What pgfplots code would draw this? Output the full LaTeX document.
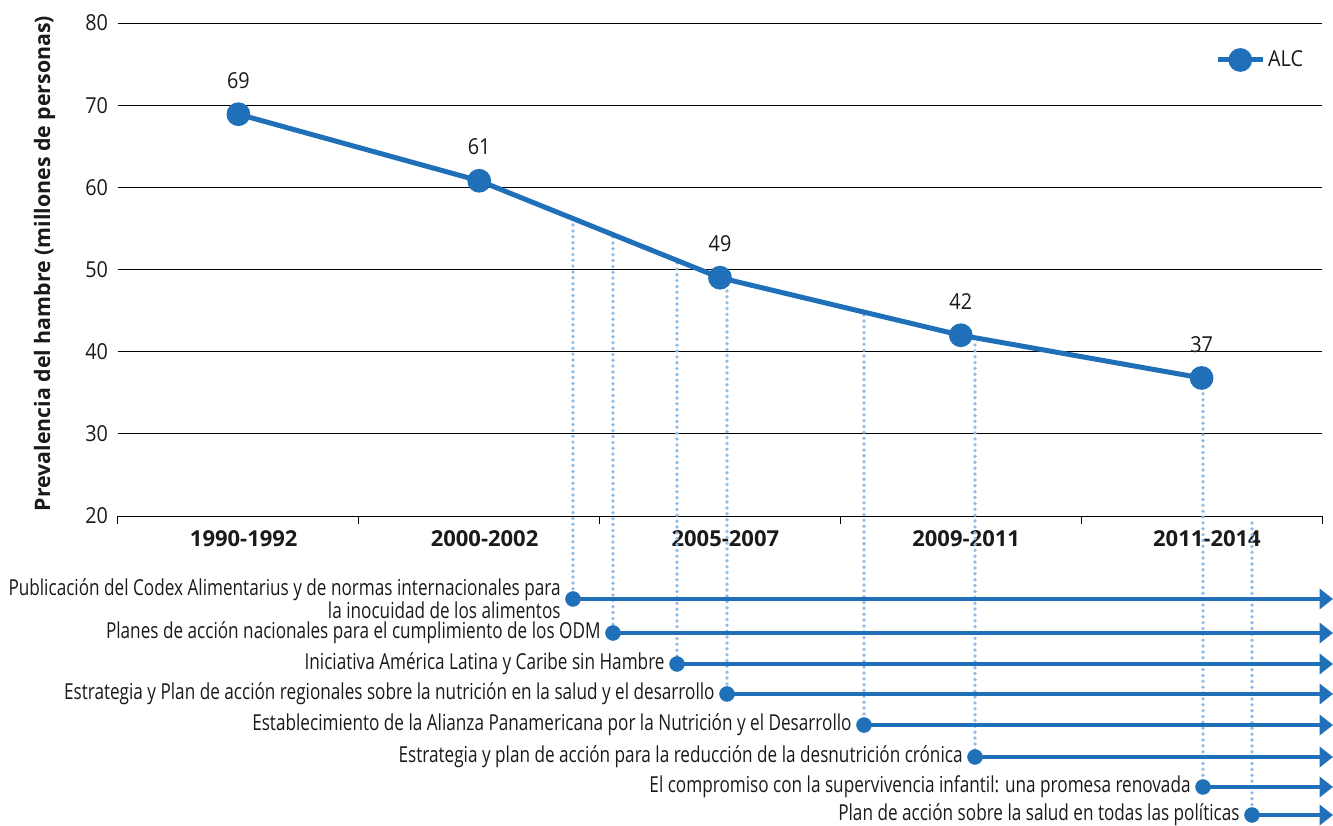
\documentclass[border=0pt]{standalone}
\usepackage{pgfplots}
\pgfplotsset{compat=1.18}
\usetikzlibrary{arrows.meta}
\usepackage{fontspec}
\setmainfont{Open Sans}[FakeStretch=0.78, BoldFeatures={FakeStretch=1.0}]
\newfontfamily\numfont{Open Sans}[FakeStretch=0.9]
\definecolor{alcblue}{RGB}{31,112,184}
\definecolor{dotblue}{RGB}{145,188,228}
\definecolor{txt}{RGB}{26,26,26}
\newcommand{\fs}{\fontsize{16.5}{16.5}\selectfont}
\newcommand{\nfs}{\numfont\fontsize{16.5}{16.5}\selectfont}
\tikzset{tlab/.style={pos=0, anchor=east, xshift=-4.5pt, text=txt, font=\fontsize{16.5}{14.5}\selectfont, align=right}}
\pgfplotsset{tl/.style={forget plot, alcblue, line width=3pt, -{Triangle[length=10pt,width=15pt]}},
  dl/.style={forget plot, dotblue, line width=2.8pt, line cap=round, dash pattern=on 0pt off 4.4pt}}
\begin{document}
\begin{tikzpicture}
\begin{axis}[
  scale only axis, width=903pt, height=369.75pt,
  xmin=-0.5, xmax=4.5, ymin=20, ymax=80,
  clip=false,
  font=\fs,
  /pgf/number format/assume math mode=true,
  ytick={20,30,...,80},
  ymajorgrids, grid style={black, line width=0.75pt},
  axis x line*=bottom, axis y line*=left,
  y axis line style={draw=none},
  x axis line style={black, line width=0.75pt},
  ytick style={draw=none},
  yticklabel style={xshift=2pt, text=txt, font=\nfs},
  xtick={-0.5,0.5,...,4.5}, xticklabels={},
  tick align=outside, major tick length=6pt,
  xtick style={black, line width=0.75pt},
  extra x ticks={0,1,2,3,4},
  extra x tick labels={1990-1992,2000-2002,2005-2007,2009-2011,2011-2014},
  extra x tick style={major tick length=0pt, tick label style={font=\fs\bfseries, text=txt, yshift=-7pt, xshift=4pt}},
  ylabel={Prevalencia del hambre (millones de personas)},
  ylabel style={at={(axis description cs:0,0.5)}, anchor=center, yshift=55pt, xshift=4.5pt, font=\fontsize{16}{16}\selectfont\bfseries, text=txt},
  legend style={draw=none, fill=none, at={(0.99,0.925)}, anchor=east, font=\nfs, text=txt},
  legend image code/.code={\draw[mark repeat=2, mark phase=2] plot coordinates {(0pt,0pt) (17pt,0pt) (34pt,0pt)};},
]
% dotted guide lines
\addplot[dl] coordinates {(1.3895,55.41) (1.3895,9.90)};
\addplot[dl] coordinates {(1.5556,53.95) (1.5556,5.76)};
\addplot[dl] coordinates {(1.8214,50.79) (1.8214,1.99)};
\addplot[dl] coordinates {(2.0291,48.11) (2.0291,-1.66)};
\addplot[dl] coordinates {(2.5980,44.46) (2.5980,-5.44)};
\addplot[dl] coordinates {(3.0590,40.81) (3.0590,-9.33)};
\addplot[dl] coordinates {(4.2093,19.15) (4.2093,-16.39)};
% main series
\addplot[alcblue, line width=3.75pt, mark=*, mark size=7pt, mark options={solid},
  nodes near coords, point meta=explicit symbolic,
  nodes near coords style={anchor=south, yshift=14pt, text=txt, font=\nfs}]
  coordinates {(0,68.9) [69] (1,60.8) [61] (2,49) [49] (3,42) [42] (4,36.8) [37]};
\addlegendentry{ALC}
\addplot[dl] coordinates {(4.0058,36.3) (4.0058,-12.98)};
% timeline arrows
\addplot[tl] coordinates {(1.3895,9.90) (4.5457,9.90)} node[tlab] {Publicación del Codex Alimentarius y de normas internacionales para\\la inocuidad de los alimentos};
\addplot[tl] coordinates {(1.5556,5.76) (4.5457,5.76)} node[tlab] {Planes de acción nacionales para el cumplimiento de los ODM};
\addplot[tl] coordinates {(1.8214,1.99) (4.5457,1.99)} node[tlab] {Iniciativa América Latina y Caribe sin Hambre};
\addplot[tl] coordinates {(2.0291,-1.66) (4.5457,-1.66)} node[tlab] {Estrategia y Plan de acción regionales sobre la nutrición en la salud y el desarrollo};
\addplot[tl] coordinates {(2.5980,-5.44) (4.5457,-5.44)} node[tlab] {Establecimiento de la Alianza Panamericana por la Nutrición y el Desarrollo};
\addplot[tl] coordinates {(3.0590,-9.33) (4.5457,-9.33)} node[tlab] {Estrategia y plan de acción para la reducción de la desnutrición crónica};
\addplot[tl] coordinates {(4.0058,-12.98) (4.5457,-12.98)} node[tlab] {El compromiso con la supervivencia infantil: una promesa renovada};
\addplot[tl] coordinates {(4.2093,-16.39) (4.5457,-16.39)} node[tlab] {Plan de acción sobre la salud en todas las políticas};
\addplot[forget plot, only marks, alcblue, mark=*, mark size=5.6pt] coordinates {(1.3895,9.90) (1.5556,5.76) (1.8214,1.99) (2.0291,-1.66) (2.5980,-5.44) (3.0590,-9.33) (4.0058,-12.98) (4.2093,-16.39)};
\coordinate (BL) at (axis cs:-0.990,-17.61);
\coordinate (TR) at (axis cs:4.5457,82.80);
\end{axis}
\pgfresetboundingbox
\path[use as bounding box] (BL) rectangle (TR);
\end{tikzpicture}
\end{document}
